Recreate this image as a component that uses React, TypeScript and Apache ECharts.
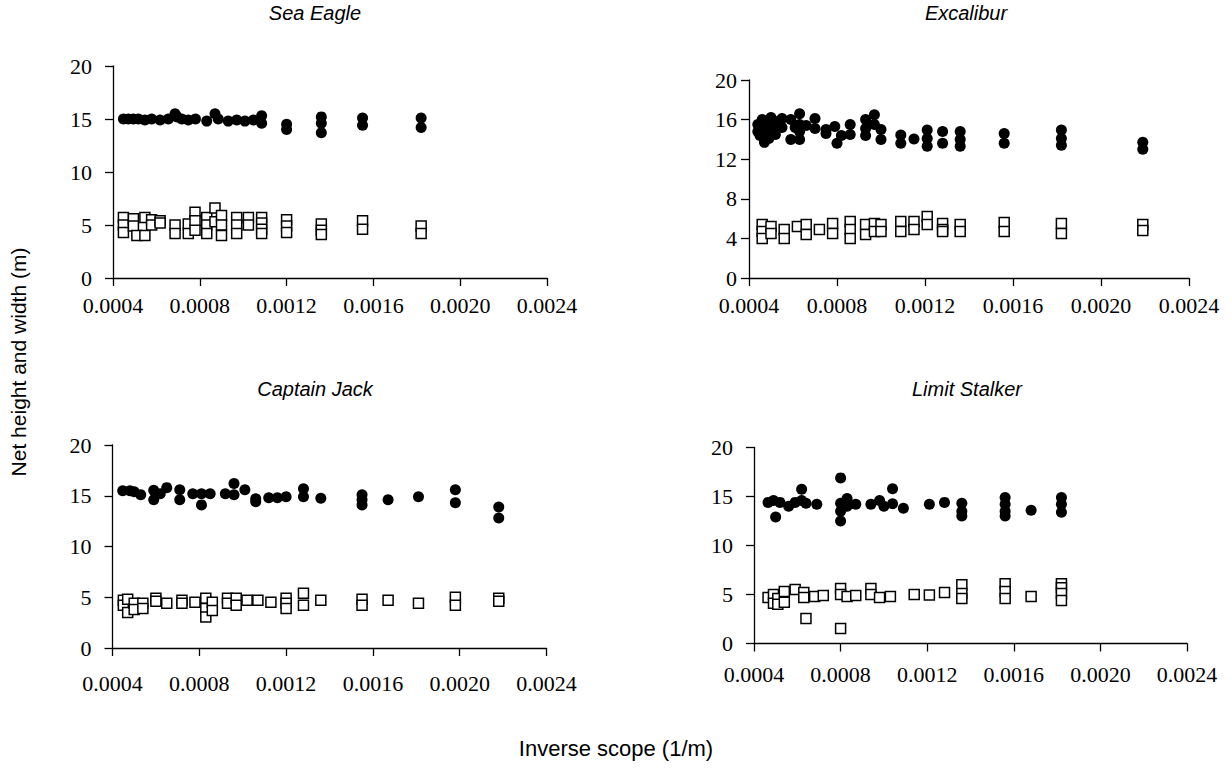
import React, { useEffect, useRef } from "react";
import * as echarts from "echarts";

// ---------- data (x = inverse scope 1/m, y = metres) ----------
const panelTitles = ["Sea Eagle", "Excalibur", "Captain Jack", "Limit Stalker"];
const xTicks = [0.0004, 0.0008, 0.0012, 0.0016, 0.002, 0.0024];
const yMaxes = [20, 20, 20, 20];
const yIntervals = [5, 4, 5, 5];

const seaEagleHeight = [
  [0.000448, 15.0], [0.000471, 15.0], [0.000494, 15.0], [0.000517, 15.0], [0.000547, 14.9],
  [0.000578, 15.0], [0.000617, 14.9], [0.000655, 15.0], [0.000686, 15.5], [0.000695, 15.2],
  [0.000717, 15.0], [0.000747, 14.9], [0.00078, 15.0], [0.000832, 14.8], [0.00087, 15.5],
  [0.000885, 15.0], [0.000931, 14.8], [0.00097, 14.9], [0.001008, 14.8], [0.001047, 14.9],
  [0.001085, 15.3], [0.001085, 14.6], [0.0012, 14.5], [0.0012, 14.0], [0.00136, 15.2],
  [0.00136, 14.6], [0.00136, 13.7], [0.00155, 15.1], [0.00155, 14.4], [0.00182, 15.1],
  [0.00182, 14.2],
];
const seaEagleWidth = [
  [0.000448, 5.7], [0.000448, 5.0], [0.000448, 4.3], [0.000494, 5.6], [0.000494, 4.9],
  [0.00051, 4.0], [0.000547, 5.7], [0.000547, 4.0], [0.000578, 5.5], [0.000578, 5.0],
  [0.000617, 5.4], [0.000617, 5.2], [0.000686, 5.0], [0.000686, 4.2], [0.000747, 5.1],
  [0.000747, 4.2], [0.000778, 6.2], [0.000778, 5.4], [0.000778, 4.5], [0.000832, 5.7],
  [0.000832, 5.0], [0.000832, 4.2], [0.00087, 6.6], [0.00087, 5.3], [0.0009, 5.9],
  [0.0009, 5.0], [0.0009, 4.0], [0.00097, 5.7], [0.00097, 5.0], [0.00097, 4.2],
  [0.001024, 5.7], [0.001024, 5.0], [0.001085, 5.7], [0.001085, 5.2], [0.001085, 4.6],
  [0.001085, 4.2], [0.0012, 5.5], [0.0012, 4.9], [0.0012, 4.3], [0.00136, 5.1],
  [0.00136, 4.5], [0.00136, 4.1], [0.00155, 5.4], [0.00155, 4.6], [0.00182, 4.9],
  [0.00182, 4.2],
];

const excaliburHeight = [
  [0.00044, 15.5], [0.00044, 14.8], [0.00045, 15.2], [0.00045, 14.4], [0.00046, 16.0],
  [0.00046, 15.0], [0.00047, 13.7], [0.00047, 14.6], [0.00048, 15.6], [0.00049, 15.3],
  [0.00049, 14.1], [0.0005, 16.2], [0.00051, 15.0], [0.00052, 14.5], [0.00053, 15.8],
  [0.00055, 16.1], [0.00055, 15.2], [0.00059, 16.0], [0.00059, 14.0], [0.00061, 15.2],
  [0.00063, 16.6], [0.00063, 15.5], [0.00063, 14.8], [0.00063, 14.0], [0.00066, 15.4],
  [0.0007, 16.1], [0.0007, 15.1], [0.00075, 15.0], [0.00075, 14.6], [0.00079, 15.3],
  [0.0008, 13.6], [0.00082, 14.4], [0.00086, 15.5], [0.00086, 14.5], [0.00093, 16.0],
  [0.00093, 15.1], [0.00093, 14.4], [0.00097, 16.5], [0.00097, 15.5], [0.001, 15.0],
  [0.001, 14.0], [0.00109, 14.45], [0.00109, 13.6], [0.00115, 14.05], [0.00121, 14.96],
  [0.00121, 14.1], [0.00121, 13.3], [0.00128, 14.8], [0.00128, 13.6], [0.00136, 14.8],
  [0.00136, 14.0], [0.00136, 13.3], [0.00156, 14.6], [0.00156, 13.6], [0.00182, 14.96],
  [0.00182, 14.1], [0.00182, 13.4], [0.00219, 13.7], [0.00219, 13.0],
];
const excaliburWidth = [
  [0.00046, 5.4], [0.00046, 4.7], [0.00046, 4.0], [0.0005, 5.2], [0.0005, 4.5],
  [0.00056, 4.9], [0.00056, 4.0], [0.00062, 5.2], [0.00066, 5.4], [0.00066, 4.4],
  [0.00072, 4.9], [0.00078, 5.5], [0.00078, 4.5], [0.00086, 5.7], [0.00086, 4.9],
  [0.00086, 4.0], [0.00093, 5.4], [0.00093, 4.4], [0.00097, 5.5], [0.00097, 4.7],
  [0.001, 5.4], [0.001, 4.7], [0.00109, 5.7], [0.00109, 4.7], [0.00115, 5.7],
  [0.00115, 4.9], [0.00121, 6.2], [0.00121, 5.4], [0.00128, 5.5], [0.00128, 4.9],
  [0.00128, 4.7], [0.00136, 5.4], [0.00136, 4.7], [0.00156, 5.6], [0.00156, 4.7],
  [0.00182, 5.5], [0.00182, 4.5], [0.00219, 5.4], [0.00219, 4.8],
];

const captainJackHeight = [
  [0.000447, 15.5], [0.00048, 15.5], [0.0005, 15.4], [0.00053, 15.1], [0.00059, 15.55],
  [0.00059, 14.6], [0.00062, 15.2], [0.00065, 15.8], [0.00071, 15.6], [0.00071, 14.6],
  [0.00077, 15.2], [0.00081, 15.2], [0.00081, 14.1], [0.00085, 15.2], [0.00092, 15.2],
  [0.00096, 16.2], [0.00096, 15.1], [0.00101, 15.6], [0.00106, 14.7], [0.00106, 14.4],
  [0.00112, 14.8], [0.00116, 14.8], [0.0012, 14.9], [0.00128, 15.7], [0.00128, 14.9],
  [0.00136, 14.75], [0.00155, 15.1], [0.00155, 14.6], [0.00155, 14.1], [0.00167, 14.6],
  [0.00181, 14.9], [0.00198, 15.6], [0.00198, 14.3], [0.00218, 13.9], [0.00218, 12.8],
];
const captainJackWidth = [
  [0.00045, 4.7], [0.00045, 4.2], [0.00047, 4.8], [0.00047, 3.5], [0.0005, 4.4],
  [0.0005, 3.8], [0.00054, 4.4], [0.00054, 3.9], [0.0006, 4.9], [0.0006, 4.6],
  [0.00065, 4.4], [0.00072, 4.7], [0.00072, 4.4], [0.00078, 4.5], [0.00083, 4.9],
  [0.00083, 3.9], [0.00083, 3.06], [0.00086, 4.5], [0.00086, 3.7], [0.00093, 4.9],
  [0.00093, 4.4], [0.00097, 4.9], [0.00097, 4.2], [0.00102, 4.7], [0.00107, 4.7],
  [0.00113, 4.5], [0.0012, 4.9], [0.0012, 4.4], [0.0012, 3.9], [0.00128, 5.4],
  [0.00128, 4.2], [0.00136, 4.7], [0.00155, 4.8], [0.00155, 4.2], [0.00167, 4.7],
  [0.00181, 4.4], [0.00198, 5.0], [0.00198, 4.2], [0.00218, 4.9], [0.00218, 4.6],
];

const limitStalkerHeight = [
  [0.000465, 14.4], [0.00049, 14.6], [0.0005, 12.9], [0.00052, 14.4], [0.00056, 14.0],
  [0.00059, 14.4], [0.00062, 15.75], [0.00062, 14.6], [0.00064, 14.3], [0.00069, 14.2],
  [0.0008, 16.9], [0.0008, 14.3], [0.0008, 13.5], [0.0008, 12.5], [0.00083, 14.8],
  [0.00083, 14.0], [0.00087, 14.2], [0.00094, 14.2], [0.00098, 14.6], [0.001, 14.0],
  [0.00104, 15.8], [0.00104, 14.25], [0.00109, 13.8], [0.00121, 14.2], [0.00128, 14.4],
  [0.00136, 14.3], [0.00136, 13.5], [0.00136, 13.0], [0.00156, 14.9], [0.00156, 14.2],
  [0.00156, 13.5], [0.00156, 13.0], [0.00168, 13.6], [0.00182, 14.9], [0.00182, 14.2],
  [0.00182, 13.4],
];
const limitStalkerWidth = [
  [0.000465, 4.7], [0.00049, 5.0], [0.00049, 4.1], [0.00051, 4.6], [0.00051, 4.0],
  [0.00054, 5.3], [0.00054, 4.2], [0.00059, 5.5], [0.00063, 5.2], [0.00063, 4.7],
  [0.00064, 2.55], [0.00068, 4.8], [0.00072, 4.9], [0.0008, 5.6], [0.0008, 5.0],
  [0.0008, 1.53], [0.00083, 4.8], [0.00087, 4.9], [0.00094, 5.6], [0.00094, 5.0],
  [0.00098, 4.7], [0.00103, 4.8], [0.00114, 5.0], [0.00121, 4.95], [0.00128, 5.2],
  [0.00136, 6.0], [0.00136, 5.1], [0.00136, 4.6], [0.00156, 6.1], [0.00156, 5.3],
  [0.00156, 4.6], [0.00168, 4.8], [0.00182, 6.1], [0.00182, 5.7], [0.00182, 5.1],
  [0.00182, 4.4],
];

const heightSets = [seaEagleHeight, excaliburHeight, captainJackHeight, limitStalkerHeight];
const widthSets = [seaEagleWidth, excaliburWidth, captainJackWidth, limitStalkerWidth];

const yAxisTitle = "Net height and width (m)";
const xAxisTitle = "Inverse scope (1/m)";

// ---------- layout ----------
const grids = [
  { left: 113, top: 66, width: 434, height: 212 },
  { left: 749, top: 80, width: 440, height: 198 },
  { left: 112.5, top: 445, width: 434, height: 203 },
  { left: 754, top: 447.5, width: 433, height: 196 },
];
const yLabelMargins = [21, 12, 21, 21];
const xLabelMargins = [16, 16, 24, 20];
const titlePos = [
  { x: 315, y: 13 },
  { x: 966, y: 13 },
  { x: 315, y: 389 },
  { x: 967, y: 389 },
];

const SERIF = "Times New Roman, Liberation Serif, serif";
const SANS = "Liberation Sans, Arial, sans-serif";

export default function App() {
  const ref = useRef<HTMLDivElement>(null);
  useEffect(() => {
    if (!ref.current) return;
    const chart = echarts.init(ref.current, undefined, { renderer: "svg" });
    const axisLine = { lineStyle: { color: "#000", width: 1.3 } };
    const option: any = {
      animation: false,
      backgroundColor: "#fff",
      grid: grids.map((g) => ({ ...g, containLabel: false })),
      xAxis: grids.map((_, i) => ({
        type: "value",
        gridIndex: i,
        min: xTicks[0],
        max: xTicks[xTicks.length - 1],
        interval: 0.0004,
        splitLine: { show: false },
        axisLine: { ...axisLine, onZero: false },
        axisTick: { show: true, inside: false, length: 8, lineStyle: { color: "#000", width: 1.3 } },
        axisLabel: {
          margin: xLabelMargins[i],
          color: "#000",
          fontFamily: SERIF,
          fontSize: 22,
          formatter: (v: number) => v.toFixed(4),
        },
      })),
      yAxis: grids.map((_, i) => ({
        type: "value",
        gridIndex: i,
        min: 0,
        max: yMaxes[i],
        interval: yIntervals[i],
        splitLine: { show: false },
        axisLine: { ...axisLine, show: true },
        axisTick: { show: true, inside: false, length: 8, lineStyle: { color: "#000", width: 1.3 } },
        axisLabel: {
          margin: yLabelMargins[i],
          color: "#000",
          fontFamily: SERIF,
          fontSize: 22,
        },
      })),
      series: [
        ...widthSets.map((d, i) => ({
          type: "scatter",
          xAxisIndex: i,
          yAxisIndex: i,
          data: d,
          symbol: "rect",
          symbolSize: 10,
          itemStyle: { color: "#fff", borderColor: "#000", borderWidth: 1.5, opacity: 1 },
          silent: true,
        })),
        ...heightSets.map((d, i) => ({
          type: "scatter",
          xAxisIndex: i,
          yAxisIndex: i,
          data: d,
          symbol: "circle",
          symbolSize: 11,
          itemStyle: { color: "#000", opacity: 1 },
          silent: true,
        })),
      ],
      graphic: [
        ...panelTitles.map((t, i) => ({
          type: "text",
          x: titlePos[i].x,
          y: titlePos[i].y,
          style: {
            text: t,
            font: `italic 20px ${SANS}`,
            fill: "#000",
            textAlign: "center",
            textVerticalAlign: "middle",
          },
        })),
        {
          type: "text",
          x: 18,
          y: 362,
          rotation: Math.PI / 2,
          style: {
            text: yAxisTitle,
            font: `21px ${SANS}`,
            fill: "#000",
            textAlign: "center",
            textVerticalAlign: "middle",
          },
        },
        {
          type: "text",
          x: 616,
          y: 748,
          style: {
            text: xAxisTitle,
            font: `22px ${SANS}`,
            fill: "#000",
            textAlign: "center",
            textVerticalAlign: "middle",
          },
        },
      ],
    };
    chart.setOption(option);
    return () => chart.dispose();
  }, []);
  return (
    <div
      ref={ref}
      style={{ position: "fixed", left: 0, top: 0, width: 1232, height: 770, background: "#fff" }}
    />
  );
}
